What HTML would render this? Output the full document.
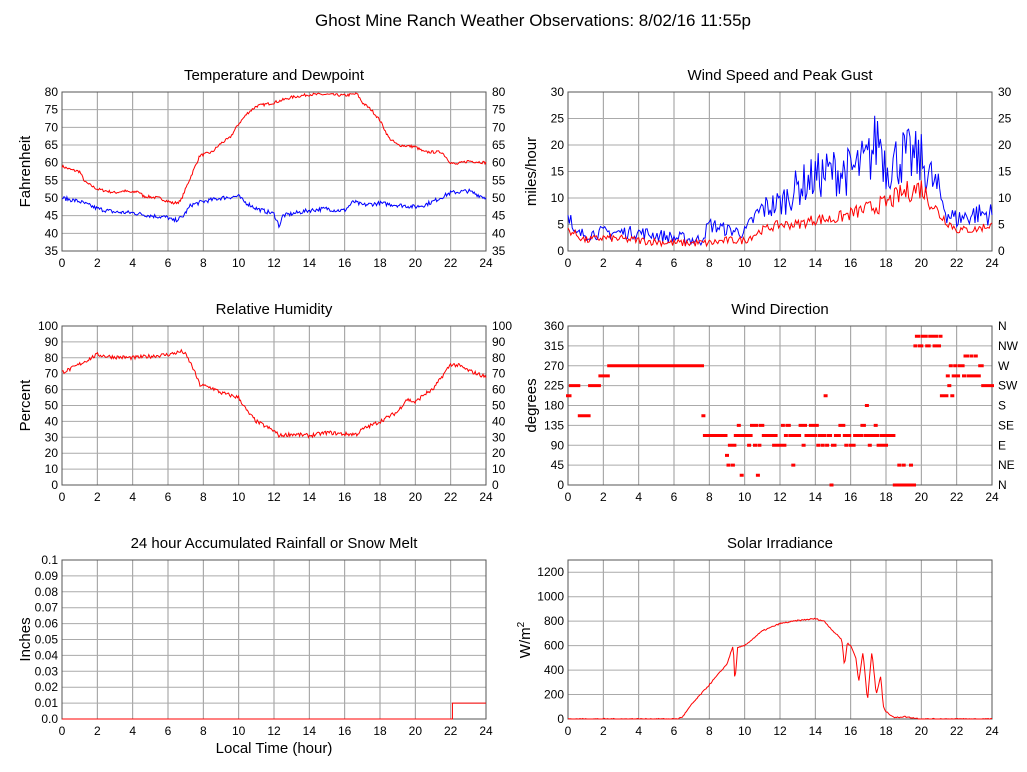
<!DOCTYPE html>
<html><head><meta charset="utf-8"><style>
body{margin:0;background:#fff;}
svg{display:block;font-family:"Liberation Sans",Arial,sans-serif;}
</style></head><body>
<svg id="s" width="1027" height="772" xmlns="http://www.w3.org/2000/svg">
<rect width="1027" height="772" fill="#fff"/>
<text x="533" y="26" font-size="17" text-anchor="middle">Ghost Mine Ranch Weather Observations: 8/02/16 11:55p</text>
</svg>
<script>
var S=document.getElementById('s'),NS='http://www.w3.org/2000/svg';
var seed=7;function rnd(){seed=(seed*16807)%2147483647;return seed/2147483647;}
function el(t,a,txt){var e=document.createElementNS(NS,t);for(var k in a)e.setAttribute(k,a[k]);if(txt!=null)e.textContent=txt;S.appendChild(e);return e;}
function interp(k,h){for(var i=0;i<k.length-1;i++){if(h>=k[i][0]&&h<=k[i+1][0]){var t=(h-k[i][0])/(k[i+1][0]-k[i][0]);return k[i][1]+t*(k[i+1][1]-k[i][1]);}}return k[k.length-1][1];}
function panel(o){
 var x0=o.x,x1=o.x+424,y0=o.y,y1=o.y+159;
 el('text',{x:(x0+x1)/2,y:y0-12,'font-size':15,'text-anchor':'middle'},o.title);
 for(var h=0;h<=24;h+=2){var X=x0+h/24*424;el('line',{x1:X,y1:y0,x2:X,y2:y1,stroke:'#999','stroke-width':1});el('text',{x:X,y:y1+16,'font-size':12,'text-anchor':'middle'},h);}
 var n=o.ticks.length;for(var i=0;i<n;i++){var Y=y1-i*(o.step)*159/(o.max-o.min);
  el('line',{x1:x0,y1:Y,x2:x1,y2:Y,stroke:'#aaa','stroke-width':1});
  el('text',{x:x0-4,y:Y+4,'font-size':12,'text-anchor':'end'},o.ticks[i]);
  if(o.right)el('text',{x:x1+6,y:Y+4,'font-size':12},o.right[i]);}
 el('rect',{x:x0,y:y0,width:424,height:159,fill:'none',stroke:'#555','stroke-width':1});
 var ly=(y0+y1)/2;el('text',{x:0,y:0,'font-size':15,'text-anchor':'middle',transform:'translate('+(x0-32)+','+ly+') rotate(-90)'},o.ylab);
 o.X=function(h){return x0+h/24*424};o.Y=function(v){return y1-(v-o.min)/(o.max-o.min)*159};return o;}
function series(p,k,noise,col,n,clampMin,rel){var d='';n=n||430;for(var i=0;i<=n;i++){var h=i/n*24;var b=interp(k,h);var v=b+(rnd()-0.5)*noise*(rel?Math.max(0.5,b/8):1);if(clampMin!=null&&v<clampMin)v=clampMin;d+=(i?'L':'M')+p.X(h).toFixed(1)+' '+p.Y(v).toFixed(1);}el('path',{d:d,fill:'none',stroke:col,'stroke-width':1});}
function tk(a,b,s){var r=[];for(var v=a;v<=b+1e-9;v+=s)r.push(+v.toFixed(2));return r;}
var t=tk(35,80,5);var p1=panel({x:62,y:92,title:'Temperature and Dewpoint',ylab:'Fahrenheit',min:35,max:80,step:5,ticks:t,right:t});
series(p1,[[0,59],[0.5,58],[1,57.5],[1.3,54.5],[2,52.5],[3,51.5],[3.5,52],[4,51.5],[4.3,52],[4.6,50.5],[5.5,50],[6.3,48.5],[6.7,49],[7.2,55],[7.8,62],[8.5,63],[9,65.5],[9.5,67],[10,71],[10.5,74],[11,76],[12,77],[13,78.5],[14,79.3],[15,79.3],[16,79],[16.7,79.5],[17,77],[17.5,75],[18,72],[18.5,67],[19,65],[20,64.5],[20.5,63],[21.5,63],[22,60],[22.3,59.5],[23,60.5],[24,60]],0.8,'#f00');
series(p1,[[0,50],[1,49],[2,47],[3,46],[4,45.8],[5,45],[6,44.5],[6.3,43.5],[6.8,44.5],[7.3,48],[8,49],[9,50],[10,50.5],[10.3,49],[11,47],[12,45.5],[12.3,42],[12.5,45],[13,45.5],[14,46.5],[15,47],[15.5,46.5],[16,46.5],[16.5,49],[17,48],[18,48.5],[19,48],[20,47.5],[20.5,48],[21,49],[22,51.5],[23,52],[24,50]],1.2,'#00f');
var w=tk(0,30,5);var p2=panel({x:568,y:92,title:'Wind Speed and Peak Gust',ylab:'miles/hour',min:0,max:30,step:5,ticks:w,right:w});
series(p2,[[0,9],[0.3,3],[2,3.5],[4,3.5],[6,2.5],[7.5,2],[8,5],[9,4],[10,3.5],[10.5,6],[11,8],[12,9],[13,12],[14,14],[15,15],[16,15],[17,17],[17.6,22],[18,16],[19,18],[20,17],[21,11],[21.5,7],[22,6],[23,7],[24,7]],5,'#00f',300,0,true);
series(p2,[[0,4],[1,2],[2,2.5],[4,2],[6,1.5],[8,1.5],[9,2],[10,2],[11,4],[12,5],[13,5],[14,6],[15,6],[16,7],[17,8],[18,9],[19,11],[20,12],[21,7],[22,4],[23,4],[24,5]],3,'#f00',300,0,true);
var r=tk(0,100,10);var p3=panel({x:62,y:326,title:'Relative Humidity',ylab:'Percent',min:0,max:100,step:10,ticks:r,right:r});
series(p3,[[0,71],[0.5,73],[1,76],[1.5,79],[2,82],[2.5,81],[3,80.5],[4,80],[5,81],[6,82],[6.8,84],[7,82],[7.4,74],[7.8,63],[8.5,61],[9,58],[10,55],[10.5,46],[11,40],[12,34],[12.3,31],[13,32],[14,31],[15,33],[16,32],[16.7,32],[17,35],[18,40],[19,46],[19.5,54],[20,52],[20.5,57],[21,60],[21.5,68],[22,76],[22.5,75],[23,72],[24,68]],2.5,'#f00');
var p4=panel({x:568,y:326,title:'Wind Direction',ylab:'degrees',min:0,max:360,step:45,ticks:tk(0,360,45),right:['N','NE','E','SE','S','SW','W','NW','N']});
function dirAt(h){
 if(h<0.1)return 202;if(h<0.6)return 225;if(h<1.2)return 157;if(h<1.8)return 225;if(h<2.3)return 247;if(h<7.6)return 270;
 if(h<7.7)return 157;if(h<9)return 112;if(h<9.5)return [45,67,90][Math.floor(rnd()*3)];
 if(h<18.5){var a=[90,112,112,135,112,90,135,112];var v=a[Math.floor(rnd()*a.length)];if(rnd()<0.06)v=[0,22,45,67,157,180,202][Math.floor(rnd()*7)];return v;}
 if(h<19.6)return rnd()<0.15?45:0;if(h<21.1)return rnd()<0.6?337:315;if(h<22)return [270,247,202,225][Math.floor(rnd()*4)];
 if(h<23.5)return [270,247,292,247][Math.floor(rnd()*4)];return 225;}
var dd='';for(var i=0;i<=288;i++){var h=i/288*24;var v=dirAt(h);dd+='M'+(p4.X(h)-2).toFixed(1)+' '+(p4.Y(v)-1.5).toFixed(1)+'h4v3h-4z';}
el('path',{d:dd,fill:'#f00'});
var p5=panel({x:62,y:560,title:'24 hour Accumulated Rainfall or Snow Melt',ylab:'Inches',min:0,max:0.1,step:0.01,ticks:tk(0,0.1,0.01).map(function(v){return v===0?'0.0':v===0.1?'0.1':String(v)})});
el('path',{d:'M'+p5.X(0)+' '+p5.Y(0)+'L'+p5.X(22.1)+' '+p5.Y(0)+'L'+p5.X(22.1)+' '+p5.Y(0.01)+'L'+p5.X(24)+' '+p5.Y(0.01),fill:'none',stroke:'#f00'});
el('text',{x:274,y:753,'font-size':15,'text-anchor':'middle'},'Local Time (hour)');
var p6=panel({x:568,y:560,title:'Solar Irradiance',ylab:'',min:0,max:1300,step:200,ticks:tk(0,1200,200)});
var lt=el('text',{x:0,y:0,'font-size':15,'text-anchor':'middle',transform:'translate(530,640) rotate(-90)'},'W/m');
var sp=document.createElementNS(NS,'tspan');sp.setAttribute('dy','-6');sp.setAttribute('font-size','10');sp.textContent='2';lt.appendChild(sp);
series(p6,[[0,0],[6.2,0],[6.5,20],[7,120],[8,280],[9,450],[9.35,600],[9.45,300],[9.6,580],[10,600],[11,720],[12,780],[13,805],[14,820],[14.5,800],[15,720],[15.5,650],[15.65,430],[15.8,620],[16,600],[16.3,500],[16.45,300],[16.7,550],[16.95,150],[17.2,550],[17.45,200],[17.7,350],[17.85,100],[18,60],[18.5,10],[19,20],[19.5,10],[20,0],[24,0]],10,'#f00',430,0);
</script>
</body></html>
